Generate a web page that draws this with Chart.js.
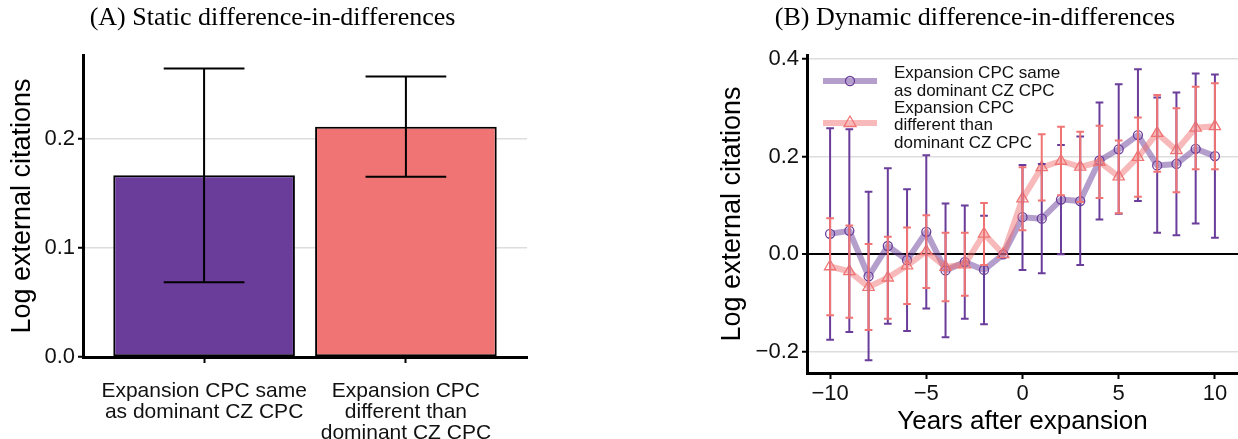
<!DOCTYPE html>
<html>
<head>
<meta charset="utf-8">
<script src="https://cdn.jsdelivr.net/npm/chart.js"></script>
<style>
  body { margin: 0; background: #fff; overflow: hidden; }
  canvas { position: absolute; top: 0; }
  #static-chart { left: 0; }
  #dynamic-chart { left: 712px; }
</style>
</head>
<body>
<canvas id="static-chart" width="540" height="439"></canvas>
<canvas id="dynamic-chart" width="526" height="439"></canvas>
<script>
// groups (bar categories / legend entries)
const groupLabels = [
  ['Expansion CPC same', 'as dominant CZ CPC'],
  ['Expansion CPC', 'different than', 'dominant CZ CPC']
];

// (A) static estimates
const staticPos = [1, 2];
const staticEst = [0.1666, 0.2113];
const staticLo = [0.0685, 0.1654];
const staticHi = [0.2647, 0.2572];
const staticTicks = [0, 0.1, 0.2];

// (B) dynamic estimates by year
const years = [-10, -9, -8, -7, -6, -5, -4, -3, -2, -1, 0, 1, 2, 3, 4, 5, 6, 7, 8, 9, 10];
const sameEst = [0.042, 0.048, -0.045, 0.017, -0.012, 0.046, -0.033, -0.016, -0.032, 0, 0.076, 0.073, 0.112, 0.109, 0.192, 0.215, 0.244, 0.182, 0.185, 0.216, 0.201];
const sameLo = [-0.175, -0.159, -0.217, -0.142, -0.157, -0.111, -0.170, -0.132, -0.143, null, -0.032, -0.039, 0.0, -0.022, 0.071, 0.083, 0.109, 0.044, 0.039, 0.063, 0.034];
const sameHi = [0.258, 0.256, 0.128, 0.176, 0.133, 0.203, 0.104, 0.100, 0.079, null, 0.183, 0.185, 0.224, 0.241, 0.311, 0.348, 0.379, 0.321, 0.331, 0.370, 0.368];
const diffEst = [-0.025, -0.035, -0.067, -0.048, -0.023, 0.006, -0.026, -0.021, 0.042, 0, 0.114, 0.178, 0.191, 0.179, 0.189, 0.159, 0.199, 0.248, 0.213, 0.259, 0.262];
const diffLo = [-0.125, -0.130, -0.155, -0.132, -0.102, -0.069, -0.096, -0.085, -0.022, null, 0.049, 0.110, 0.121, 0.107, 0.115, 0.084, 0.118, 0.169, 0.127, 0.174, 0.174];
const diffHi = [0.074, 0.059, 0.021, 0.036, 0.055, 0.080, 0.044, 0.044, 0.105, null, 0.178, 0.246, 0.261, 0.251, 0.263, 0.233, 0.280, 0.326, 0.299, 0.343, 0.350];
const yearTicks = [-10, -5, 0, 5, 10];
const dynamicTicks = [-0.2, 0, 0.2, 0.4];

const purple = '#6A3D9A';
const red = '#F07474';
const capWidth = 0.2;

Chart.defaults.font.family = '"Liberation Sans", Arial, sans-serif';
Chart.defaults.color = '#111';

const fmt = v => (v < 0 ? '\u2212' : '') + Math.abs(v).toFixed(1);
const fmtInt = v => (v < 0 ? '\u2212' : '') + Math.abs(v);

// vertical error bars with caps, drawn from each dataset's errLo / errHi
const errorBars = {
  id: 'errorBars',
  afterDatasetsDraw(chart) {
    const ctx = chart.ctx;
    const xs = chart.scales.x, ys = chart.scales.y;
    chart.data.datasets.forEach(ds => {
      if (!ds.errLo) return;
      ctx.save();
      ctx.strokeStyle = ds.errColor;
      ctx.lineWidth = 2;
      ds.data.forEach((pt, i) => {
        const lo = ds.errLo[i], hi = ds.errHi[i];
        if (lo == null || hi == null) return;
        const x = xs.getPixelForValue(pt.x);
        const half = xs.getPixelForValue(pt.x + capWidth) - x;
        const y0 = ys.getPixelForValue(lo);
        const y1 = ys.getPixelForValue(hi);
        ctx.beginPath();
        ctx.moveTo(x, y0); ctx.lineTo(x, y1);
        ctx.moveTo(x - half, y0); ctx.lineTo(x + half, y0);
        ctx.moveTo(x - half, y1); ctx.lineTo(x + half, y1);
        ctx.stroke();
      });
      ctx.restore();
    });
  }
};

function drawMarker(ctx, style, r, x, y) {
  ctx.beginPath();
  if (style === 'triangle') {
    ctx.moveTo(x, y - r);
    ctx.lineTo(x + r * Math.sin(Math.PI / 3), y + r / 2);
    ctx.lineTo(x - r * Math.sin(Math.PI / 3), y + r / 2);
    ctx.closePath();
  } else {
    ctx.arc(x, y, r, 0, Math.PI * 2);
  }
  ctx.stroke();
}

// legend inside the top left corner of panel B, with wrapped labels
const innerLegend = {
  id: 'innerLegend',
  afterDraw(chart) {
    const { ctx, chartArea } = chart;
    const x0 = chartArea.left + 16, x1 = chartArea.left + 70;
    const xm = (x0 + x1) / 2;
    const tx = chartArea.left + 87;
    const rows = [
      { ds: chart.data.datasets[0], y: chartArea.top + 26, textTop: chartArea.top + 23 },
      { ds: chart.data.datasets[1], y: chartArea.top + 68, textTop: chartArea.top + 57.5 }
    ];
    ctx.save();
    rows.forEach((row, r) => {
      ctx.strokeStyle = row.ds.borderColor;
      ctx.lineWidth = row.ds.borderWidth;
      ctx.beginPath();
      ctx.moveTo(x0, row.y); ctx.lineTo(x1, row.y);
      ctx.stroke();
      ctx.strokeStyle = row.ds.pointBorderColor;
      ctx.lineWidth = row.ds.pointBorderWidth;
      drawMarker(ctx, row.ds.pointStyle, row.ds.pointRadius + (r ? 0.5 : 0), xm, row.y);
      ctx.fillStyle = '#111';
      ctx.font = '17px "Liberation Sans", Arial, sans-serif';
      ctx.textAlign = 'left';
      ctx.textBaseline = 'alphabetic';
      groupLabels[r].forEach((line, k) => {
        ctx.fillText(line, tx, row.textTop + k * 17.5);
      });
    });
    ctx.restore();
  }
};

const titleFont = { family: '"Liberation Serif", "Times New Roman", serif', size: 26, weight: 'normal' };

// (A) static bar chart
new Chart(document.getElementById('static-chart'), {
  type: 'bar',
  data: {
    datasets: [{
      data: staticPos.map((x, i) => ({ x: x, y: staticEst[i] })),
      backgroundColor: [purple, red],
      borderColor: '#000',
      borderWidth: 2,
      borderSkipped: false,
      barPercentage: 0.9,
      categoryPercentage: 1,
      errLo: staticLo,
      errHi: staticHi,
      errColor: '#000'
    }]
  },
  options: {
    responsive: false,
    animation: false,
    layout: { autoPadding: false, padding: { left: 18, right: 13, top: 0, bottom: 0 } },
    plugins: {
      legend: { display: false },
      tooltip: { enabled: false },
      title: {
        display: true,
        text: '(A) Static difference-in-differences',
        font: titleFont,
        color: '#000',
        padding: { top: 3, bottom: 20.8 }
      }
    },
    scales: {
      x: {
        type: 'linear',
        offset: false,
        min: 0.4,
        max: 2.6,
        afterBuildTicks: s => { s.ticks = staticPos.map(v => ({ value: v })); },
        afterFit: s => { s.height = 82; s.paddingLeft = 0; s.paddingRight = 0; },
        ticks: {
          callback: v => groupLabels[staticPos.indexOf(v)],
          font: { size: 21, lineHeight: 1.0 },
          maxRotation: 0,
          autoSkip: false,
          padding: 18
        },
        grid: { offset: false, drawOnChartArea: false, tickLength: 6, tickColor: '#000', tickWidth: 2 },
        border: { color: '#000', width: 3 }
      },
      y: {
        min: 0,
        max: 0.277,
        afterBuildTicks: s => { s.ticks = staticTicks.map(v => ({ value: v })); },
        afterFit: s => { s.width = 65; },
        ticks: { callback: v => fmt(v), font: { size: 22 }, padding: 3 },
        grid: { color: '#DDDDDD', lineWidth: 1.5, tickLength: 5, tickColor: '#000', tickWidth: 2 },
        border: { color: '#000', width: 3 },
        title: {
          display: true,
          text: 'Log external citations',
          font: { size: 27 },
          color: '#000',
          padding: { top: -12, bottom: 0 }
        }
      }
    }
  },
  plugins: [errorBars]
});

// (B) dynamic event-study chart
new Chart(document.getElementById('dynamic-chart'), {
  type: 'line',
  data: {
    datasets: [
      {
        data: years.map((x, i) => ({ x: x, y: sameEst[i] })),
        borderColor: 'rgba(106, 61, 154, 0.5)',
        borderWidth: 6,
        borderJoinStyle: 'round',
        pointStyle: 'circle',
        pointRadius: 4.5,
        pointBorderColor: purple,
        pointBackgroundColor: 'rgba(0,0,0,0)',
        pointBorderWidth: 1.3,
        order: 1,
        errLo: sameLo,
        errHi: sameHi,
        errColor: purple
      },
      {
        data: years.map((x, i) => ({ x: x, y: diffEst[i] })),
        borderColor: 'rgba(240, 116, 116, 0.5)',
        borderWidth: 6,
        borderJoinStyle: 'round',
        pointStyle: 'triangle',
        pointRadius: 6.5,
        pointBorderColor: red,
        pointBackgroundColor: 'rgba(0,0,0,0)',
        pointBorderWidth: 1.3,
        order: 0,
        errLo: diffLo,
        errHi: diffHi,
        errColor: red
      }
    ]
  },
  options: {
    responsive: false,
    animation: false,
    layout: { autoPadding: false, padding: 0 },
    plugins: {
      legend: { display: false },
      tooltip: { enabled: false },
      title: {
        display: true,
        text: '(B) Dynamic difference-in-differences',
        font: titleFont,
        color: '#000',
        padding: { top: 3, bottom: 20.8 }
      }
    },
    scales: {
      x: {
        type: 'linear',
        min: -11.2,
        max: 11.2,
        afterBuildTicks: s => { s.ticks = yearTicks.map(v => ({ value: v })); },
        afterFit: s => { s.height = 66; s.paddingLeft = 0; s.paddingRight = 0; },
        ticks: { callback: v => fmtInt(v), font: { size: 22 }, maxRotation: 0, autoSkip: false, padding: 2 },
        grid: { drawOnChartArea: false, tickLength: 6, tickColor: '#000', tickWidth: 2 },
        border: { color: '#000', width: 3 },
        title: {
          display: true,
          text: 'Years after expansion',
          font: { size: 26 },
          color: '#000',
          padding: { top: 0, bottom: 2 }
        }
      },
      y: {
        min: -0.243,
        max: 0.408,
        afterBuildTicks: s => { s.ticks = dynamicTicks.map(v => ({ value: v })); },
        afterFit: s => { s.width = 95; },
        ticks: { callback: v => fmt(v), font: { size: 22 }, padding: 3 },
        grid: {
          color: c => (c.tick && c.tick.value === 0 ? '#000' : '#DDDDDD'),
          lineWidth: c => (c.tick && c.tick.value === 0 ? 2 : 1.5),
          tickLength: 5,
          tickColor: '#000',
          tickWidth: 2
        },
        border: { color: '#000', width: 3 },
        title: {
          display: true,
          text: 'Log external citations',
          font: { size: 27 },
          color: '#000',
          padding: { top: 4, bottom: 0 }
        }
      }
    }
  },
  plugins: [errorBars, innerLegend]
});
</script>
</body>
</html>
